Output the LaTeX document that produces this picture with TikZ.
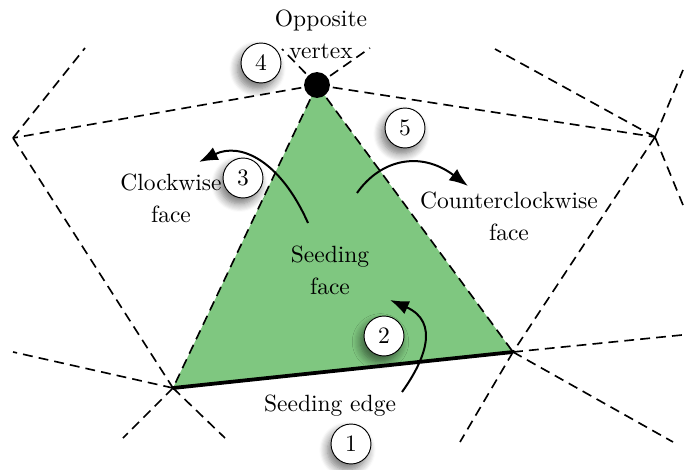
\documentclass[tikz,border=0pt]{standalone}
\usetikzlibrary{arrows.meta,shadows.blur}
\definecolor{seedgreen}{RGB}{127,199,128}
\begin{document}
\begin{tikzpicture}[x=0.4255pt,y=-0.4255pt,
  font=\fontsize{10}{13.6}\selectfont,
  mesh/.style={dash pattern=on 4.2pt off 2.6pt, line width=0.7pt},
  arr/.style={line width=0.85pt,-{Latex[length=8pt,width=6pt]}},
  num/.style={circle,draw,fill=white,minimum size=17pt,inner sep=0pt,
    blur shadow={shadow xshift=-1.5pt,shadow yshift=-2.5pt,shadow blur radius=3.5pt,shadow opacity=55,shadow blur steps=8}},
  lbl/.style={align=center}]
\useasboundingbox (0,0) rectangle (684,470);
% vertices
\coordinate (V) at (317,85);
\coordinate (A) at (173,388);
\coordinate (B) at (513,352);
\coordinate (L) at (13,138);
\coordinate (R) at (655,137);
% free ends
\coordinate (v1) at (282,49);
\coordinate (v2) at (370,48);
\coordinate (l1) at (85,48);
\coordinate (r1) at (495,49);
\coordinate (r2) at (683,70);
\coordinate (r3) at (683,205);
\coordinate (b1) at (460,442);
\coordinate (b2) at (682,335);
\coordinate (b3) at (673,442);
\coordinate (a1) at (13,352);
\coordinate (a2) at (123,438);
\coordinate (a3) at (225,438);
% seeding face
\fill[seedgreen] (V) -- (A) -- (B) -- cycle;
% mesh
\draw[mesh] (V) -- (A);
\draw[mesh] (V) -- (B);
\draw[mesh] (V) -- (L);
\draw[mesh] (V) -- (R);
\draw[mesh] (V) -- (v1);
\draw[mesh] (V) -- (v2);
\draw[mesh] (L) -- (l1);
\draw[mesh] (L) -- (A);
\draw[mesh] (R) -- (r1);
\draw[mesh] (R) -- (r2);
\draw[mesh] (R) -- (r3);
\draw[mesh] (R) -- (B);
\draw[mesh] (B) -- (b1);
\draw[mesh] (B) -- (b2);
\draw[mesh] (B) -- (b3);
\draw[mesh] (A) -- (a1);
\draw[mesh] (A) -- (a2);
\draw[mesh] (A) -- (a3);
% seeding edge
\draw[line width=1.6pt] (A) -- (B);
% opposite vertex
\node[circle,fill=black,minimum size=11pt,inner sep=0pt] (vdot) at (V) {};
% labels
\node[lbl] (ov) at (321,34) {Opposite\\vertex};
\node[lbl] (cw) at (171,198) {Clockwise\\face};
\node[lbl] (ccw) at (509,216) {Counterclockwise\\face};
\node[lbl] (sf) at (330,270) {Seeding\\face};
\node (se) at (330,406) {Seeding edge};
% arrows
\coordinate (s1) at (402,392);
\coordinate (e1) at (390,300);
\draw[arr] (s1) .. controls (425,360) and (440,322) .. (e1);
\coordinate (s3) at (308,223);
\coordinate (e3) at (199,162);
\draw[arr] (s3) .. controls (280,160) and (240,142) .. (e3);
\coordinate (s5) at (357,193);
\coordinate (e5) at (468,186);
\draw[arr] (s5) .. controls (380,160) and (420,150) .. (e5);
% step numbers
\node[num] (n1) at (351,444) {1};
\node[num] (n2) at (384,336) {2};
\node[num] (n3) at (243,178) {3};
\node[num] (n4) at (261,63) {4};
\node[num] (n5) at (405,128) {5};
\end{tikzpicture}
\end{document}
